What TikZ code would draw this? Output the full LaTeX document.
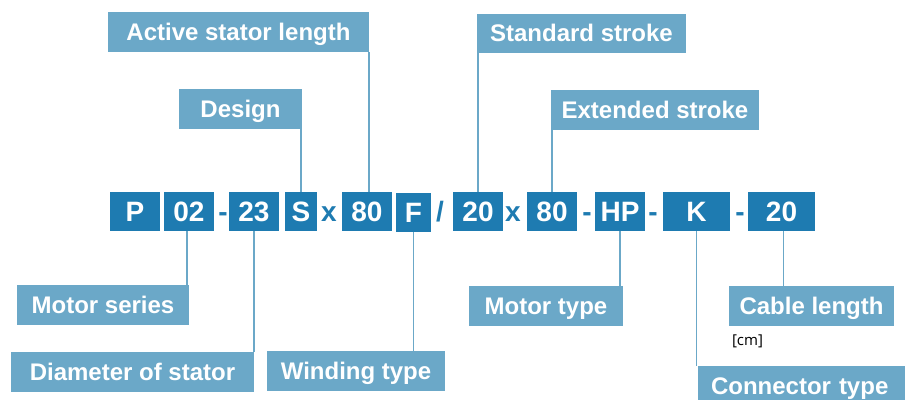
\documentclass[tikz,border=0pt]{standalone}
\usepackage{fontspec}
\setmainfont{Liberation Sans}
\newfontfamily\unitfont{Open Sans}
\usetikzlibrary{positioning}
\definecolor{CodeBlue}{HTML}{1E7BB1}
\definecolor{TagBlue}{HTML}{6BA8C8}
\tikzstyle{part} = [fill=CodeBlue,text=white,font=\fontsize{28}{30}\selectfont\bfseries,minimum height=39pt,inner sep=0pt,text height=20pt,text depth=0pt]
\tikzstyle{sep} = [text=CodeBlue,font=\fontsize{28}{30}\selectfont\bfseries,inner sep=0pt,text height=20pt,text depth=0pt]
\tikzstyle{tag} = [fill=TagBlue,text=white,font=\fontsize{24}{26}\selectfont\bfseries,minimum height=40pt,inner sep=0pt,text height=19pt,text depth=3pt]
\tikzstyle{link} = [draw=TagBlue,line width=1.6pt]
\begin{document}
\begin{tikzpicture}[x=1pt,y=-1pt]
					\useasboundingbox (0,0) rectangle (905,399);
					\clip (0,0) rectangle (905,399);
					% order code
					\node[part,minimum width=50pt] (p1) at (135,211.5) {P};
					\node[part,minimum width=50pt] (p2) at (189,211.5) {02};
					\node[part,minimum width=50pt] (p3) at (254,211.5) {23};
					\node[part,minimum width=32pt] (p4) at (301,211.5) {S};
					\node[part,minimum width=50pt] (p5) at (367,211.5) {80};
					\node[part,minimum width=35pt] (p6) at (413.5,212.5) {F};
					\node[part,minimum width=50pt] (p7) at (478,211.5) {20};
					\node[part,minimum width=50pt] (p8) at (552,211.5) {80};
					\node[part,minimum width=50pt] (p9) at (620,211.5) {HP};
					\node[part,minimum width=67pt] (p10) at (696.5,211.5) {K};
					\node[part,minimum width=67pt] (p11) at (781.5,211.5) {20};
					
					\node[sep] (s1) at (223,211.5) {-};
					\node[sep] (s2) at (329,211.5) {x};
					\node[sep] (s3) at (440,211.5) {/};
					\node[sep] (s4) at (513,211.5) {x};
					\node[sep] (s5) at (587,211.5) {-};
					\node[sep] (s6) at (653,211.5) {-};
					\node[sep] (s7) at (740,211.5) {-};
					
					% labels above
					\node[tag,minimum width=261pt] (l1) at (238.5,32) {Active stator length};
					\node[tag,minimum width=123pt] (l2) at (240.5,109) {Design};
					\node[tag,minimum width=209pt,minimum height=39pt] (l3) at (581.5,33.5) {Standard stroke};
					\node[tag,minimum width=208pt] (l4) at (655,110) {Extended stroke};
					
					% labels below
					\node[tag,minimum width=172pt] (l5) at (103,305) {Motor series};
					\node[tag,minimum width=243pt] (l6) at (132.5,372) {Diameter of stator};
					\node[tag,minimum width=178pt] (l7) at (356,371) {Winding type};
					\node[tag,minimum width=154pt] (l8) at (546,306) {Motor type};
					\node[tag,minimum width=165pt] (l9) at (811.5,306) {Cable length};
					\node[tag,minimum width=207pt,text width=181pt,align=left] (l10) at (801.5,386) {Connector type};
					\node[font=\unitfont\fontsize{15}{17}\selectfont,inner sep=0pt,below=8pt of l9.south west,anchor=north west,xshift=3pt] (u1) {[cm]};
					
					\draw[link] ([xshift=2pt]p5.north) -- ([xshift=2pt]p5.north |- l1.south);
					\draw[link] (p4.north) -- (p4.north |- l2.south);
					\draw[link] (p7.north) -- (p7.north |- l3.south);
					\draw[link] (p8.north) -- (p8.north |- l4.south);
					\draw[link] ([xshift=-2pt]p2.south) -- ([xshift=-2pt]p2.south |- l5.north);
					\draw[link] (p3.south) -- (p3.south |- l6.north);
					\draw[link] (p6.south) -- (p6.south |- l7.north);
					\draw[link] (p9.south) -- (p9.south |- l8.north);
					\draw[link] ([xshift=2pt]p11.south) -- ([xshift=2pt]p11.south |- l9.north);
					\draw[link] (p10.south) -- (p10.south |- l10.north);
\end{tikzpicture}
\end{document}
